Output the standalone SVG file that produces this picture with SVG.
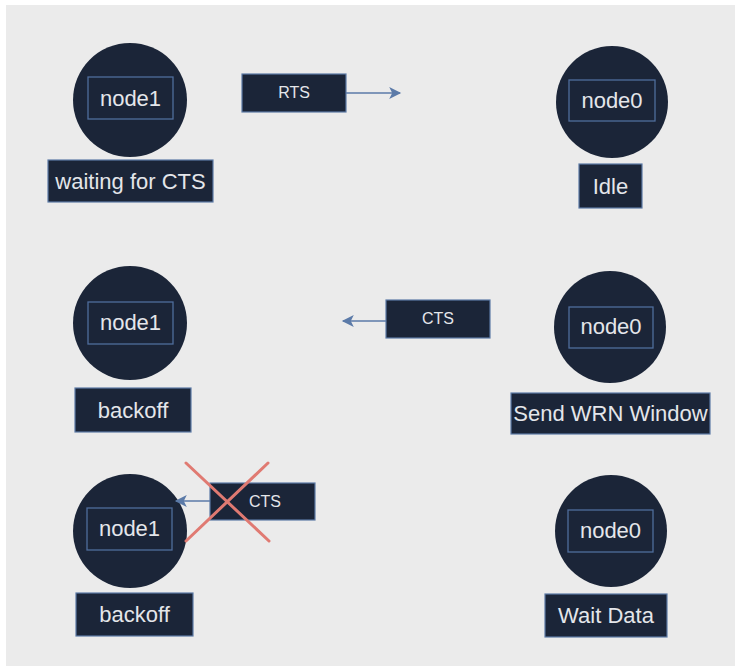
<svg xmlns="http://www.w3.org/2000/svg" width="735" height="666" viewBox="0 0 735 666">
  <defs>
    <marker id="arrow" viewBox="0 0 10 10" refX="9" refY="5" markerWidth="13" markerHeight="12" markerUnits="userSpaceOnUse" orient="auto">
      <path d="M0,0 L10,5 L0,10 L2.5,5 Z" fill="#5b7aa8"/>
    </marker>
    <style>
      .node { fill: #1b2538; }
      .inner { fill: none; stroke: #4f6d9c; stroke-width: 1.3; }
      .box { fill: #1b2538; stroke: #5c7aa6; stroke-width: 1.2; }
      .label { font-family: "Liberation Sans", Arial, sans-serif; font-size: 22px; fill: #e4e6ea; text-anchor: middle; dominant-baseline: central; }
      .msg { font-family: "Liberation Sans", Arial, sans-serif; font-size: 16px; fill: #e4e6ea; text-anchor: middle; dominant-baseline: central; }
      .edge { stroke: #5b7aa8; stroke-width: 1.5; fill: none; marker-end: url(#arrow); }
      .cross { stroke: #e07a72; stroke-width: 3; stroke-linecap: round; }
    </style>
  </defs>

  <!-- canvas -->
  <rect x="0" y="0" width="735" height="666" fill="#ffffff"/>
  <rect x="6" y="5" width="729" height="661" fill="#ebebeb"/>

  <!-- row 1 -->
  <g id="node1-top">
    <circle class="node" cx="130" cy="100" r="57"/>
    <rect class="inner" x="88" y="77" width="85" height="42"/>
    <text class="label" x="130.5" y="98">node1</text>
    <rect class="box" x="48" y="160" width="165" height="42"/>
    <text class="label" x="130.5" y="181">waiting for CTS</text>
  </g>
  <g id="node0-top">
    <circle class="node" cx="612" cy="102" r="56"/>
    <rect class="inner" x="569" y="80" width="86" height="41"/>
    <text class="label" x="612" y="100">node0</text>
    <rect class="box" x="579" y="164" width="63" height="44"/>
    <text class="label" x="610.5" y="186">Idle</text>
  </g>
  <g id="rts-msg">
    <rect class="box" x="242" y="74" width="104" height="38"/>
    <text class="msg" x="294" y="92">RTS</text>
  </g>

  <!-- row 2 -->
  <g id="node1-mid">
    <circle class="node" cx="130" cy="323" r="57"/>
    <rect class="inner" x="88" y="302" width="85" height="42"/>
    <text class="label" x="130.5" y="322">node1</text>
    <rect class="box" x="75" y="388" width="116" height="44"/>
    <text class="label" x="133" y="410">backoff</text>
  </g>
  <g id="node0-mid">
    <circle class="node" cx="610" cy="327" r="56"/>
    <rect class="inner" x="569" y="307" width="84" height="41"/>
    <text class="label" x="611" y="326">node0</text>
    <rect class="box" x="511" y="393" width="199" height="41"/>
    <text class="label" x="610.5" y="413">Send WRN Window</text>
  </g>
  <g id="cts-msg">
    <rect class="box" x="386" y="300" width="104" height="38"/>
    <text class="msg" x="438" y="318">CTS</text>
  </g>

  <!-- row 3 -->
  <g id="node1-bottom">
    <circle class="node" cx="130" cy="531" r="57"/>
    <rect class="inner" x="87" y="508" width="85" height="42"/>
    <text class="label" x="129.5" y="528">node1</text>
    <rect class="box" x="76" y="593" width="117" height="43"/>
    <text class="label" x="134.5" y="614">backoff</text>
  </g>
  <g id="node0-bottom">
    <circle class="node" cx="611" cy="531" r="56"/>
    <rect class="inner" x="568" y="510" width="85" height="42"/>
    <text class="label" x="610.5" y="530">node0</text>
    <rect class="box" x="545" y="594" width="122" height="43"/>
    <text class="label" x="606" y="615">Wait Data</text>
  </g>
  <g id="cts-lost">
    <rect class="box" x="210" y="483" width="105" height="37"/>
    <text class="msg" x="265" y="501">CTS</text>
  </g>

  <!-- connectors -->
  <g id="edges">
    <line class="edge" x1="346" y1="93" x2="400" y2="93"/>
    <line class="edge" x1="386" y1="321" x2="343" y2="321"/>
    <line class="edge" x1="210" y1="501" x2="176" y2="501"/>
    <line class="cross" x1="186" y1="463" x2="269" y2="541"/>
    <line class="cross" x1="268" y1="463" x2="186" y2="541"/>
  </g>
</svg>
